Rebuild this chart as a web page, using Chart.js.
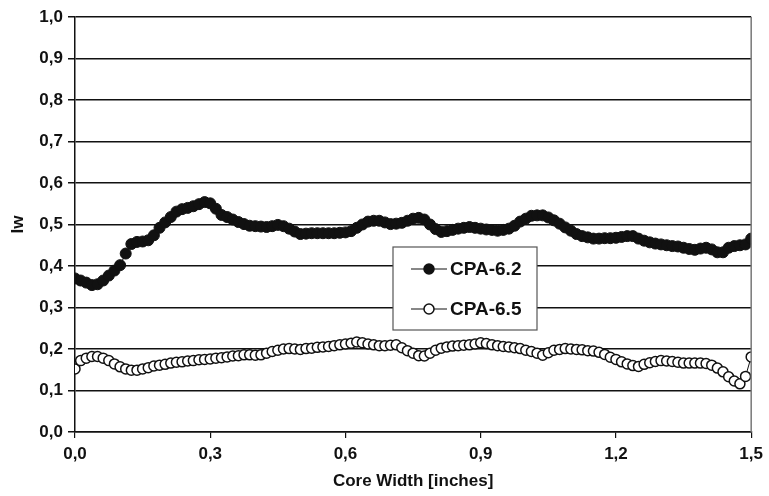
<!DOCTYPE html>
<html>
<head>
<meta charset="utf-8">
<script src="https://cdn.jsdelivr.net/npm/chart.js@4/dist/chart.umd.min.js"></script>
<style>
  html, body { margin: 0; padding: 0; background: #fff; }
  #wrap { width: 769px; height: 496px; }
</style>
</head>
<body>
<div id="wrap"><canvas id="myChart"></canvas></div>
<script>
// core width positions (inches), 121 samples
const xStep = 0.0125;
const cpa62 = [
  0.370, 0.365, 0.360, 0.354, 0.356, 0.365, 0.377, 0.389, 0.402, 0.430,
  0.453, 0.458, 0.459, 0.462, 0.474, 0.492, 0.505, 0.518, 0.531, 0.537,
  0.540, 0.544, 0.549, 0.554, 0.551, 0.538, 0.523, 0.518, 0.512, 0.506,
  0.501, 0.497, 0.496, 0.495, 0.494, 0.496, 0.499, 0.496, 0.490, 0.483,
  0.477, 0.478, 0.479, 0.479, 0.479, 0.479, 0.479, 0.480, 0.481, 0.484,
  0.492, 0.500, 0.507, 0.509, 0.509, 0.505, 0.501, 0.502, 0.504, 0.509,
  0.514, 0.516, 0.512, 0.500, 0.489, 0.482, 0.484, 0.487, 0.490, 0.492,
  0.494, 0.492, 0.490, 0.488, 0.487, 0.485, 0.487, 0.490, 0.497, 0.507,
  0.514, 0.521, 0.522, 0.522, 0.517, 0.510, 0.502, 0.493, 0.485, 0.477,
  0.472, 0.469, 0.466, 0.466, 0.467, 0.467, 0.468, 0.470, 0.472, 0.472,
  0.466, 0.461, 0.457, 0.454, 0.452, 0.450, 0.448, 0.447, 0.444, 0.441,
  0.439, 0.442, 0.444, 0.440, 0.433, 0.433, 0.444, 0.448, 0.450, 0.452,
  0.466
];
const cpa65 = [
  0.152, 0.172, 0.178, 0.182, 0.182, 0.178, 0.172, 0.164, 0.157, 0.152,
  0.149, 0.149, 0.152, 0.155, 0.159, 0.161, 0.163, 0.166, 0.168, 0.169,
  0.171, 0.172, 0.174, 0.175, 0.176, 0.178, 0.179, 0.181, 0.183, 0.184,
  0.186, 0.186, 0.185, 0.186, 0.190, 0.194, 0.197, 0.200, 0.201, 0.200,
  0.199, 0.201, 0.202, 0.204, 0.205, 0.206, 0.208, 0.210, 0.212, 0.214,
  0.217, 0.215, 0.212, 0.210, 0.208, 0.208, 0.209, 0.210, 0.203, 0.196,
  0.190, 0.184, 0.183, 0.190, 0.197, 0.202, 0.205, 0.207, 0.208, 0.209,
  0.210, 0.212, 0.215, 0.213, 0.210, 0.208, 0.206, 0.205, 0.203, 0.201,
  0.197, 0.194, 0.190, 0.185, 0.191, 0.197, 0.199, 0.201, 0.200, 0.199,
  0.198, 0.196, 0.195, 0.192, 0.187, 0.180, 0.175, 0.169, 0.164, 0.160,
  0.158, 0.163, 0.167, 0.170, 0.172, 0.171, 0.170, 0.168, 0.166, 0.166,
  0.166, 0.166, 0.165, 0.161, 0.154, 0.145, 0.133, 0.123, 0.116, 0.134,
  0.181
];
const seriesLabels = ["CPA-6.2", "CPA-6.5"];

const FONT = "'Liberation Sans', Arial, sans-serif";
const toPoints = (arr) => arr.map((v, i) => ({ x: i * xStep, y: v }));
const comma = (v) => Number(v).toFixed(1).replace(".", ",");

// legend box drawn inside the plot, plus the right frame line
const boxLegend = {
  id: "boxLegend",
  afterDraw(chart) {
    const ctx = chart.ctx;
    const area = chart.chartArea;
    ctx.save();
    ctx.strokeStyle = "#777";
    ctx.lineWidth = 1.5;
    ctx.beginPath();
    ctx.moveTo(area.right, area.top);
    ctx.lineTo(area.right, area.bottom);
    ctx.stroke();

    const bx = 393, by = 247, bw = 144, bh = 83;
    ctx.fillStyle = "#fff";
    ctx.fillRect(bx, by, bw, bh);
    ctx.strokeStyle = "#555";
    ctx.lineWidth = 1.2;
    ctx.strokeRect(bx, by, bw, bh);

    const rows = [269, 309];
    rows.forEach((ry, k) => {
      ctx.strokeStyle = "#111";
      ctx.lineWidth = 1.2;
      ctx.beginPath();
      ctx.moveTo(411, ry);
      ctx.lineTo(447, ry);
      ctx.stroke();
      ctx.beginPath();
      ctx.arc(429, ry, 5, 0, Math.PI * 2);
      ctx.fillStyle = k === 0 ? "#111" : "#fff";
      ctx.fill();
      ctx.lineWidth = 1.5;
      ctx.stroke();
      ctx.fillStyle = "#111";
      ctx.font = "bold 19px " + FONT;
      ctx.textAlign = "left";
      ctx.textBaseline = "middle";
      ctx.fillText(seriesLabels[k], 450, ry + 1);
    });
    ctx.restore();
  },
};

const ctx = document.getElementById("myChart").getContext("2d");
new Chart(ctx, {
  type: "line",
  data: {
    datasets: [
      {
        label: seriesLabels[0],
        data: toPoints(cpa62),
        borderColor: "#111",
        borderWidth: 1,
        pointRadius: 5.5,
        pointBackgroundColor: "#111",
        pointBorderColor: "#111",
        pointBorderWidth: 1,
        fill: false,
      },
      {
        label: seriesLabels[1],
        data: toPoints(cpa65),
        borderColor: "#111",
        borderWidth: 1,
        pointRadius: 5,
        pointBackgroundColor: "#fff",
        pointBorderColor: "#111",
        pointBorderWidth: 1.5,
        fill: false,
      },
    ],
  },
  options: {
    responsive: true,
    maintainAspectRatio: false,
    animation: false,
    layout: { padding: { top: 17, right: 16, left: 4, bottom: 0 } },
    plugins: {
      legend: { display: false },
      tooltip: { enabled: false },
    },
    scales: {
      x: {
        type: "linear",
        min: 0,
        max: 1.5,
        ticks: {
          stepSize: 0.3,
          color: "#111",
          font: { family: FONT, size: 17, weight: "bold" },
          callback: (v) => comma(v),
          padding: 6,
        },
        grid: { drawOnChartArea: false, color: "#111", tickLength: 6, lineWidth: 1.2 },
        border: { color: "#111", width: 1.5 },
        title: {
          display: true,
          text: "Core Width [inches]",
          color: "#111",
          font: { family: FONT, size: 17, weight: "bold" },
          padding: { top: 5 },
        },
        afterFit: (scale) => { scale.height = 64; },
      },
      y: {
        min: 0,
        max: 1,
        ticks: {
          stepSize: 0.1,
          color: "#111",
          font: { family: FONT, size: 17, weight: "bold" },
          callback: (v) => comma(v),
          padding: 5,
        },
        grid: { color: "#111", lineWidth: 1.5, tickLength: 7 },
        border: { color: "#111", width: 1.5 },
        title: {
          display: true,
          text: "Iw",
          color: "#111",
          font: { family: FONT, size: 17, weight: "bold" },
        },
        afterFit: (scale) => { scale.width = 71; },
      },
    },
  },
  plugins: [boxLegend],
});
</script>
</body>
</html>
